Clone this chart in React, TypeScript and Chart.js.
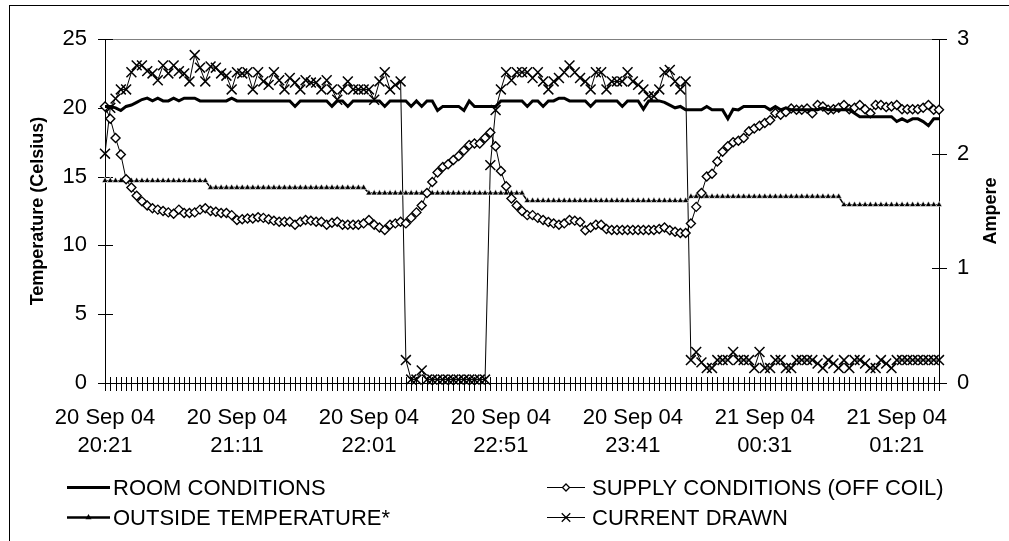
import React, { useEffect, useRef } from "react";
import { Chart, registerables } from "chart.js";

Chart.register(...registerables);

const FONT = "Arial, 'Liberation Sans', Helvetica, sans-serif";

// Readings every 2 minutes, starting 20 Sep 04 20:21
const FIRST_READING_MIN = 20 * 60 + 21;
const READING_STEP_MIN = 2;

const TICK_LABELS: [string, string][] = [
  ["20 Sep 04", "20:21"],
  ["20 Sep 04", "21:11"],
  ["20 Sep 04", "22:01"],
  ["20 Sep 04", "22:51"],
  ["20 Sep 04", "23:41"],
  ["21 Sep 04", "00:31"],
  ["21 Sep 04", "01:21"],
];

const LEFT_TITLE = "Temperature (Celsius)";
const RIGHT_TITLE = "Ampere";

const ROOM = [
  20.1, 20.1, 20.0, 19.8, 20.1, 20.2, 20.4, 20.6, 20.7, 20.5,
  20.7, 20.5, 20.5, 20.7, 20.5, 20.7, 20.7, 20.7, 20.5, 20.5,
  20.5, 20.5, 20.5, 20.5, 20.7, 20.5, 20.5, 20.5, 20.5, 20.5,
  20.5, 20.5, 20.5, 20.5, 20.5, 20.5, 20.1, 20.5, 20.5, 20.5,
  20.5, 20.5, 20.5, 20.1, 20.5, 20.5, 20.1, 20.5, 20.5, 20.5,
  20.5, 20.5, 20.5, 20.1, 20.5, 20.5, 20.5, 20.5, 20.1, 20.5,
  20.1, 20.5, 20.5, 19.8, 20.1, 20.1, 20.1, 20.1, 19.8, 20.5,
  20.1, 20.1, 20.1, 20.1, 20.1, 20.5, 20.5, 20.5, 20.5, 20.5,
  20.1, 20.5, 20.5, 20.1, 20.5, 20.5, 20.7, 20.7, 20.5, 20.5,
  20.5, 20.5, 20.1, 20.5, 20.5, 20.5, 20.5, 20.5, 20.1, 20.5,
  20.5, 20.5, 19.9, 20.5, 20.5, 20.5, 20.4, 20.2, 20.0, 20.1,
  19.85, 19.85, 19.85, 19.85, 20.1, 19.85, 19.85, 19.85, 19.2, 19.9,
  19.85, 20.1, 20.1, 20.1, 20.1, 20.1, 19.85, 20.1, 19.85, 20.0,
  19.85, 19.85, 19.85, 19.85, 19.85, 19.85, 20.0, 19.85, 19.85, 19.85,
  19.85, 19.85, 19.6, 19.35, 19.35, 19.35, 19.35, 19.35, 19.35, 19.35,
  19.0, 19.2, 19.0, 19.2, 19.2, 19.0, 18.7, 19.2, 19.2,
];

const SUPPLY = [
  20.1, 19.2, 17.8, 16.6, 14.8, 14.2, 13.6, 13.2, 12.9, 12.7,
  12.6, 12.5, 12.4, 12.3, 12.6, 12.35, 12.35, 12.4, 12.6, 12.7,
  12.5, 12.45, 12.35, 12.35, 12.2, 11.85, 11.9, 11.95, 11.95, 12.05,
  12.0, 11.9, 11.8, 11.72, 11.72, 11.72, 11.5, 11.72, 11.85, 11.8,
  11.72, 11.72, 11.5, 11.65, 11.72, 11.5, 11.5, 11.5, 11.5, 11.6,
  11.85, 11.5, 11.3, 11.12, 11.5, 11.6, 11.72, 11.6, 12.0, 12.4,
  12.9, 13.8, 14.6, 15.3, 15.7, 15.9, 16.2, 16.5, 16.9, 17.3,
  17.4, 17.4, 17.8, 18.2, 17.2, 15.4, 14.3, 13.4, 12.9, 12.5,
  12.2, 12.2, 12.0, 11.85, 11.7, 11.6, 11.5, 11.6, 11.85, 11.8,
  11.7, 11.1, 11.3, 11.5, 11.5, 11.2, 11.12, 11.12, 11.12, 11.12,
  11.12, 11.12, 11.12, 11.12, 11.12, 11.2, 11.3, 11.1, 11.0, 10.9,
  10.9, 11.6, 12.8, 13.8, 15.0, 15.2, 16.1, 16.8, 17.2, 17.5,
  17.6, 17.8, 18.3, 18.5, 18.7, 18.9, 19.1, 19.6, 19.5, 19.7,
  19.95, 19.85, 19.85, 19.95, 19.6, 20.2, 20.1, 19.85, 19.9, 20.0,
  20.2, 19.9, 20.0, 20.2, 19.9, 19.6, 20.2, 20.2, 20.05, 20.1,
  20.2, 19.9, 19.9, 19.9, 19.9, 20.0, 20.2, 19.85, 19.85,
];

const OUTSIDE = [
  14.7, 14.7, 14.7, 14.7, 14.7, 14.7, 14.7, 14.7, 14.7, 14.7,
  14.7, 14.7, 14.7, 14.7, 14.7, 14.7, 14.7, 14.7, 14.7, 14.7,
  14.2, 14.2, 14.2, 14.2, 14.2, 14.2, 14.2, 14.2, 14.2, 14.2,
  14.2, 14.2, 14.2, 14.2, 14.2, 14.2, 14.2, 14.2, 14.2, 14.2,
  14.2, 14.2, 14.2, 14.2, 14.2, 14.2, 14.2, 14.2, 14.2, 14.2,
  13.8, 13.8, 13.8, 13.8, 13.8, 13.8, 13.8, 13.8, 13.8, 13.8,
  13.8, 13.8, 13.8, 13.8, 13.8, 13.8, 13.8, 13.8, 13.8, 13.8,
  13.8, 13.8, 13.8, 13.8, 13.8, 13.8, 13.8, 13.8, 13.8, 13.8,
  13.25, 13.25, 13.25, 13.25, 13.25, 13.25, 13.25, 13.25, 13.25, 13.25,
  13.25, 13.25, 13.25, 13.25, 13.25, 13.25, 13.25, 13.25, 13.25, 13.25,
  13.25, 13.25, 13.25, 13.25, 13.25, 13.25, 13.25, 13.25, 13.25, 13.25,
  13.25, 13.55, 13.55, 13.55, 13.55, 13.55, 13.55, 13.55, 13.55, 13.55,
  13.55, 13.55, 13.55, 13.55, 13.55, 13.55, 13.55, 13.55, 13.55, 13.55,
  13.55, 13.55, 13.55, 13.55, 13.55, 13.55, 13.55, 13.55, 13.55, 13.55,
  12.95, 12.95, 12.95, 12.95, 12.95, 12.95, 12.95, 12.95, 12.95, 12.95,
  12.95, 12.95, 12.95, 12.95, 12.95, 12.95, 12.95, 12.95, 12.95,
];

const CURRENT = [
  2.0, 2.4, 2.48, 2.56, 2.56, 2.71, 2.77, 2.77, 2.72, 2.7,
  2.64, 2.77, 2.7, 2.77, 2.72, 2.7, 2.63, 2.86, 2.75, 2.63,
  2.76, 2.75, 2.7, 2.68, 2.56, 2.71, 2.7, 2.71, 2.56, 2.71,
  2.63, 2.6, 2.71, 2.64, 2.56, 2.66, 2.62, 2.56, 2.64, 2.62,
  2.62, 2.56, 2.64, 2.56, 2.47, 2.56, 2.63, 2.56, 2.56, 2.56,
  2.56, 2.47, 2.63, 2.71, 2.56, 2.6, 2.63, 0.2, 0.03, 0.03,
  0.11, 0.03, 0.03, 0.03, 0.03, 0.03, 0.03, 0.03, 0.03, 0.03,
  0.03, 0.03, 0.03, 1.9, 2.38, 2.56, 2.71, 2.64, 2.71, 2.71,
  2.71, 2.66, 2.71, 2.63, 2.56, 2.63, 2.66, 2.71, 2.77, 2.71,
  2.66, 2.63, 2.56, 2.71, 2.71, 2.56, 2.63, 2.63, 2.63, 2.71,
  2.63, 2.6, 2.56, 2.5, 2.5, 2.56, 2.71, 2.73, 2.63, 2.56,
  2.63, 0.2, 0.27, 0.18, 0.13, 0.13, 0.2, 0.2, 0.2, 0.27,
  0.2, 0.2, 0.2, 0.13, 0.27, 0.13, 0.13, 0.2, 0.2, 0.13,
  0.13, 0.2, 0.2, 0.2, 0.2, 0.17, 0.13, 0.2, 0.17, 0.13,
  0.2, 0.13, 0.2, 0.2, 0.17, 0.13, 0.13, 0.2, 0.17, 0.13,
  0.2, 0.2, 0.2, 0.2, 0.2, 0.2, 0.2, 0.2, 0.2,
];

const pad2 = (n: number) => String(n).padStart(2, "0");
const CATEGORIES: string[] = ROOM.map((_, i) => {
  const m = (FIRST_READING_MIN + READING_STEP_MIN * i) % 1440;
  return `${pad2(Math.floor(m / 60))}:${pad2(m % 60)}`;
});

// legend layout (two columns, two rows)
const LEGEND_POS = [
  { x0: 67, x1: 110, tx: 113, y: 487 },
  { x0: 547, x1: 585, tx: 592, y: 487 },
  { x0: 67, x1: 110, tx: 113, y: 517 },
  { x0: 547, x1: 585, tx: 592, y: 517 },
];

function drawMarker(ctx: CanvasRenderingContext2D, style: string, x: number, y: number, r: number) {
  ctx.save();
  ctx.strokeStyle = "#000";
  ctx.lineWidth = 1.3;
  ctx.beginPath();
  if (style === "rectRot") {
    ctx.moveTo(x, y - r);
    ctx.lineTo(x + r, y);
    ctx.lineTo(x, y + r);
    ctx.lineTo(x - r, y);
    ctx.closePath();
    ctx.fillStyle = "#fff";
    ctx.fill();
    ctx.stroke();
  } else if (style === "triangle") {
    ctx.moveTo(x, y - r);
    ctx.lineTo(x + r * 0.866, y + r * 0.5);
    ctx.lineTo(x - r * 0.866, y + r * 0.5);
    ctx.closePath();
    ctx.fillStyle = "#000";
    ctx.fill();
  } else if (style === "crossRot") {
    const d = r * 0.7071;
    ctx.moveTo(x - d, y - d);
    ctx.lineTo(x + d, y + d);
    ctx.moveTo(x - d, y + d);
    ctx.lineTo(x + d, y - d);
    ctx.stroke();
  }
  ctx.restore();
}

const decorPlugin = {
  id: "decor",
  beforeDraw(chart: any) {
    const { ctx, width, height } = chart;
    ctx.save();
    ctx.fillStyle = "#fff";
    ctx.fillRect(0, 0, width, height);
    ctx.strokeStyle = "#000";
    ctx.lineWidth = 1;
    ctx.strokeRect(9.5, 5.5, width + 10, height + 10);
    ctx.restore();
  },
  beforeDatasetsDraw(chart: any) {
    const { ctx, chartArea: ca, scales } = chart;
    ctx.save();
    ctx.strokeStyle = "#808080";
    ctx.lineWidth = 1;
    ctx.beginPath();
    ctx.moveTo(ca.left, Math.round(ca.top) + 0.5);
    ctx.lineTo(ca.right, Math.round(ca.top) + 0.5);
    ctx.stroke();

    ctx.strokeStyle = "#000";
    ctx.beginPath();
    const xs = scales.x;
    for (let i = 0; i < CATEGORIES.length; i++) {
      const px = Math.round(xs.getPixelForValue(i)) + 0.5;
      ctx.moveTo(px, ca.bottom - 6);
      ctx.lineTo(px, ca.bottom + 8);
    }
    scales.y.ticks.forEach((t: any) => {
      const py = Math.round(scales.y.getPixelForValue(t.value)) + 0.5;
      ctx.moveTo(ca.left - 7, py);
      ctx.lineTo(ca.left + 8, py);
    });
    scales.y1.ticks.forEach((t: any) => {
      const py = Math.round(scales.y1.getPixelForValue(t.value)) + 0.5;
      ctx.moveTo(ca.right - 7, py);
      ctx.lineTo(ca.right + 8, py);
    });
    ctx.stroke();
    ctx.restore();
  },
  afterDraw(chart: any) {
    const { ctx, chartArea: ca } = chart;
    const midY = (ca.top + ca.bottom) / 2;
    ctx.save();
    ctx.fillStyle = "#000";
    ctx.font = `bold 18px ${FONT}`;
    ctx.textAlign = "center";
    ctx.textBaseline = "middle";
    ctx.translate(38.5, midY);
    ctx.rotate(-Math.PI / 2);
    ctx.fillText(LEFT_TITLE, 0, 0);
    ctx.restore();

    ctx.save();
    ctx.fillStyle = "#000";
    ctx.font = `bold 18px ${FONT}`;
    ctx.textAlign = "center";
    ctx.textBaseline = "middle";
    ctx.translate(991.5, midY);
    ctx.rotate(-Math.PI / 2);
    ctx.fillText(RIGHT_TITLE, 0, 0);
    ctx.restore();

    // legend
    chart.data.datasets.forEach((ds: any, k: number) => {
      const p = LEGEND_POS[k];
      ctx.save();
      ctx.strokeStyle = "#000";
      ctx.lineWidth = ds.legendLineWidth;
      ctx.beginPath();
      ctx.moveTo(p.x0, Math.round(p.y) + 0.5);
      ctx.lineTo(p.x1, Math.round(p.y) + 0.5);
      ctx.stroke();
      ctx.restore();
      if (ds.pointRadius > 0) {
        drawMarker(ctx, ds.pointStyle, (p.x0 + p.x1) / 2, p.y + 0.5, ds.legendMarker);
      }
      ctx.save();
      ctx.fillStyle = "#000";
      ctx.font = `22px ${FONT}`;
      ctx.textAlign = "left";
      ctx.textBaseline = "alphabetic";
      ctx.fillText(ds.label, p.tx, p.y + 8);
      ctx.restore();
    });
  },
};

export default function App() {
  const canvasRef = useRef<HTMLCanvasElement | null>(null);

  useEffect(() => {
    const canvas = canvasRef.current;
    if (!canvas) return;
    const chart = new Chart(canvas, {
      type: "line",
      data: {
        labels: CATEGORIES,
        datasets: [
          {
            label: "ROOM CONDITIONS",
            data: ROOM,
            yAxisID: "y",
            borderColor: "#000",
            borderWidth: 3,
            pointRadius: 0,
            pointHoverRadius: 0,
            tension: 0,
            clip: false,
            legendLineWidth: 3,
            legendMarker: 0,
          } as any,
          {
            label: "SUPPLY CONDITIONS (OFF COIL)",
            data: SUPPLY,
            yAxisID: "y",
            borderColor: "#000",
            borderWidth: 1,
            pointStyle: "rectRot",
            pointRadius: 4.5,
            pointHoverRadius: 4.5,
            pointBackgroundColor: "#fff",
            pointBorderColor: "#000",
            pointBorderWidth: 1.4,
            tension: 0,
            clip: false,
            legendLineWidth: 1,
            legendMarker: 3.5,
          } as any,
          {
            label: "OUTSIDE TEMPERATURE*",
            data: OUTSIDE,
            yAxisID: "y",
            borderColor: "#000",
            borderWidth: 1.5,
            pointStyle: "triangle",
            pointRadius: 3.6,
            pointHoverRadius: 3.6,
            pointBackgroundColor: "#000",
            pointBorderColor: "#fff",
            pointBorderWidth: 0.6,
            tension: 0,
            clip: false,
            legendLineWidth: 2.5,
            legendMarker: 3.5,
          } as any,
          {
            label: "CURRENT DRAWN",
            data: CURRENT,
            yAxisID: "y1",
            borderColor: "#000",
            borderWidth: 1,
            pointStyle: "crossRot",
            pointRadius: 7,
            pointHoverRadius: 7,
            pointBorderColor: "#000",
            pointBorderWidth: 1.5,
            tension: 0,
            clip: false,
            legendLineWidth: 1,
            legendMarker: 6,
          } as any,
        ],
      },
      options: {
        animation: false,
        responsive: false,
        events: [],
        layout: { padding: { top: 39, left: 0, right: 0, bottom: 0 } },
        plugins: {
          legend: { display: false },
          tooltip: { enabled: false },
          title: { display: false },
        },
        scales: {
          x: {
            type: "category",
            offset: false,
            grid: { display: false, drawTicks: false },
            border: { display: true, color: "#000", width: 1 },
            ticks: {
              autoSkip: false,
              maxRotation: 0,
              minRotation: 0,
              padding: 21,
              color: "#000",
              font: { family: FONT, size: 22, lineHeight: 1.26 },
              callback: (_v: any, idx: number) => {
                const hit = TICK_LABELS.find((t) => t[1] === CATEGORIES[idx]);
                return hit ? [hit[0], hit[1]] : "";
              },
            },
            afterFit: (s: any) => {
              s.height = 158;
            },
          },
          y: {
            position: "left",
            min: 0,
            max: 25,
            grid: { display: false, drawTicks: false },
            border: { display: true, color: "#000", width: 1 },
            ticks: {
              stepSize: 5,
              padding: 18,
              color: "#000",
              font: { family: FONT, size: 22 },
            },
            afterFit: (s: any) => {
              s.width = 105;
            },
          },
          y1: {
            position: "right",
            min: 0,
            max: 3,
            grid: { display: false, drawTicks: false },
            border: { display: true, color: "#000", width: 1 },
            ticks: {
              stepSize: 1,
              padding: 18,
              color: "#000",
              font: { family: FONT, size: 22 },
            },
            afterFit: (s: any) => {
              s.width = 70;
            },
          },
        },
      } as any,
      plugins: [decorPlugin],
    });
    return () => chart.destroy();
  }, []);

  return (
    <div style={{ position: "absolute", left: 0, top: 0, width: 1009, height: 541, background: "#fff" }}>
      <canvas ref={canvasRef} width={1009} height={541} style={{ display: "block", width: 1009, height: 541 }} />
    </div>
  );
}
